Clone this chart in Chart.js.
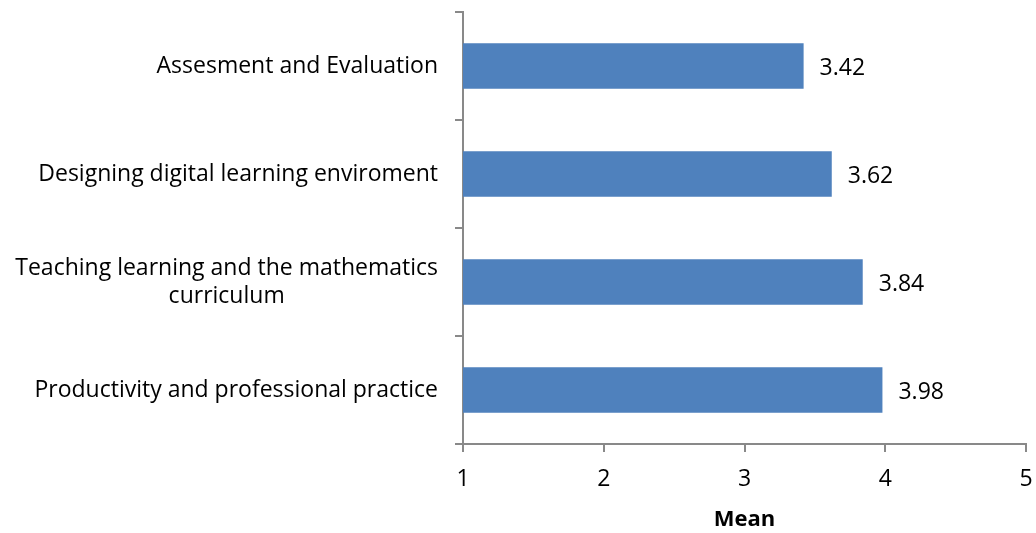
<!DOCTYPE html>
<html>
<head>
<meta charset="utf-8">
<script src="https://cdn.jsdelivr.net/npm/chart.js@4/dist/chart.umd.min.js"></script>
<style>
  html, body { margin: 0; padding: 0; background: #fff; }
  #wrap { width: 1036px; height: 533px; position: relative; }
</style>
</head>
<body>
<div id="wrap"><canvas id="c"></canvas></div>
<script>
(function () {
  "use strict";

  var categories = [
    "Assesment and Evaluation",
    "Designing digital learning enviroment",
    ["Teaching learning and the mathematics", "curriculum"],
    "Productivity and professional practice"
  ];
  var means = [3.42, 3.62, 3.84, 3.98];
  var xTicks = [1, 2, 3, 4, 5];

  var BAR = "#4f81bd";
  var AXIS = "#898989";
  var INK = "#000000";
  var FAMILY = "'Open Sans', Lato, Arial, sans-serif";
  var FS = 23;

  // y labels drawn by hand so the wrapped label centres its lines like the original
  var yLabels = {
    id: "yLabels",
    afterDraw: function (chart) {
      var ctx = chart.ctx;
      var y = chart.scales.y;
      var right = y.right - 25;
      ctx.save();
      ctx.font = FS + "px " + FAMILY;
      ctx.fillStyle = INK;
      ctx.textAlign = "center";
      ctx.textBaseline = "middle";
      categories.forEach(function (lab, i) {
        var lines = Array.isArray(lab) ? lab : [lab];
        var w = 0;
        lines.forEach(function (l) { w = Math.max(w, ctx.measureText(l).width); });
        var cx = right - w / 2;
        var lh = 28;
        var cy = y.getPixelForValue(i);
        var top = cy - (lines.length - 1) * lh / 2;
        lines.forEach(function (l, k) { ctx.fillText(l, cx, top + k * lh); });
      });
      ctx.restore();
    }
  };

  var valueLabel = {
    id: "valueLabel",
    afterDatasetsDraw: function (chart) {
      var ctx = chart.ctx;
      var meta = chart.getDatasetMeta(0);
      ctx.save();
      ctx.font = FS + "px " + FAMILY;
      ctx.fillStyle = INK;
      ctx.textAlign = "left";
      ctx.textBaseline = "middle";
      meta.data.forEach(function (bar, i) {
        ctx.fillText(means[i].toFixed(2), bar.x + 16, bar.y + 2);
      });
      ctx.restore();
    }
  };

  new Chart(document.getElementById("c"), {
    type: "bar",
    data: {
      labels: categories,
      datasets: [{
        label: "Mean",
        data: means,
        backgroundColor: BAR,
        borderWidth: 0,
        barPercentage: 0.42,
        categoryPercentage: 1
      }]
    },
    options: {
      indexAxis: "y",
      responsive: true, maintainAspectRatio: false,
      animation: false,
      layout: { padding: { top: 12, right: 10, bottom: 0, left: 0 } },
      plugins: { legend: { display: false }, tooltip: { enabled: false } },
      scales: {
        x: {
          min: 1, max: 5,
          afterBuildTicks: function (s) { s.ticks = xTicks.map(function (v) { return { value: v }; }); },
          grid: { drawOnChartArea: false, drawTicks: true, tickLength: 8, color: AXIS, lineWidth: 2 },
          border: { color: AXIS, width: 2 },
          ticks: { color: INK, font: { family: FAMILY, size: FS }, padding: 14, maxRotation: 0 },
          title: { display: true, text: "Mean", color: INK, font: { family: FAMILY, size: 22, weight: "bold" }, padding: { top: 8, bottom: 0 } },
          afterFit: function (s) { s.height = 89; s.paddingRight = 0; s.paddingLeft = 0; }
        },
        y: {
          offset: true,
          grid: { offset: true, drawOnChartArea: false, drawTicks: true, tickLength: 8, color: AXIS, lineWidth: 2 },
          border: { color: AXIS, width: 2 },
          ticks: { display: false },
          afterFit: function (s) { s.width = 463; }
        }
      }
    },
    plugins: [yLabels, valueLabel]
  });
})();
</script>
</body>
</html>
